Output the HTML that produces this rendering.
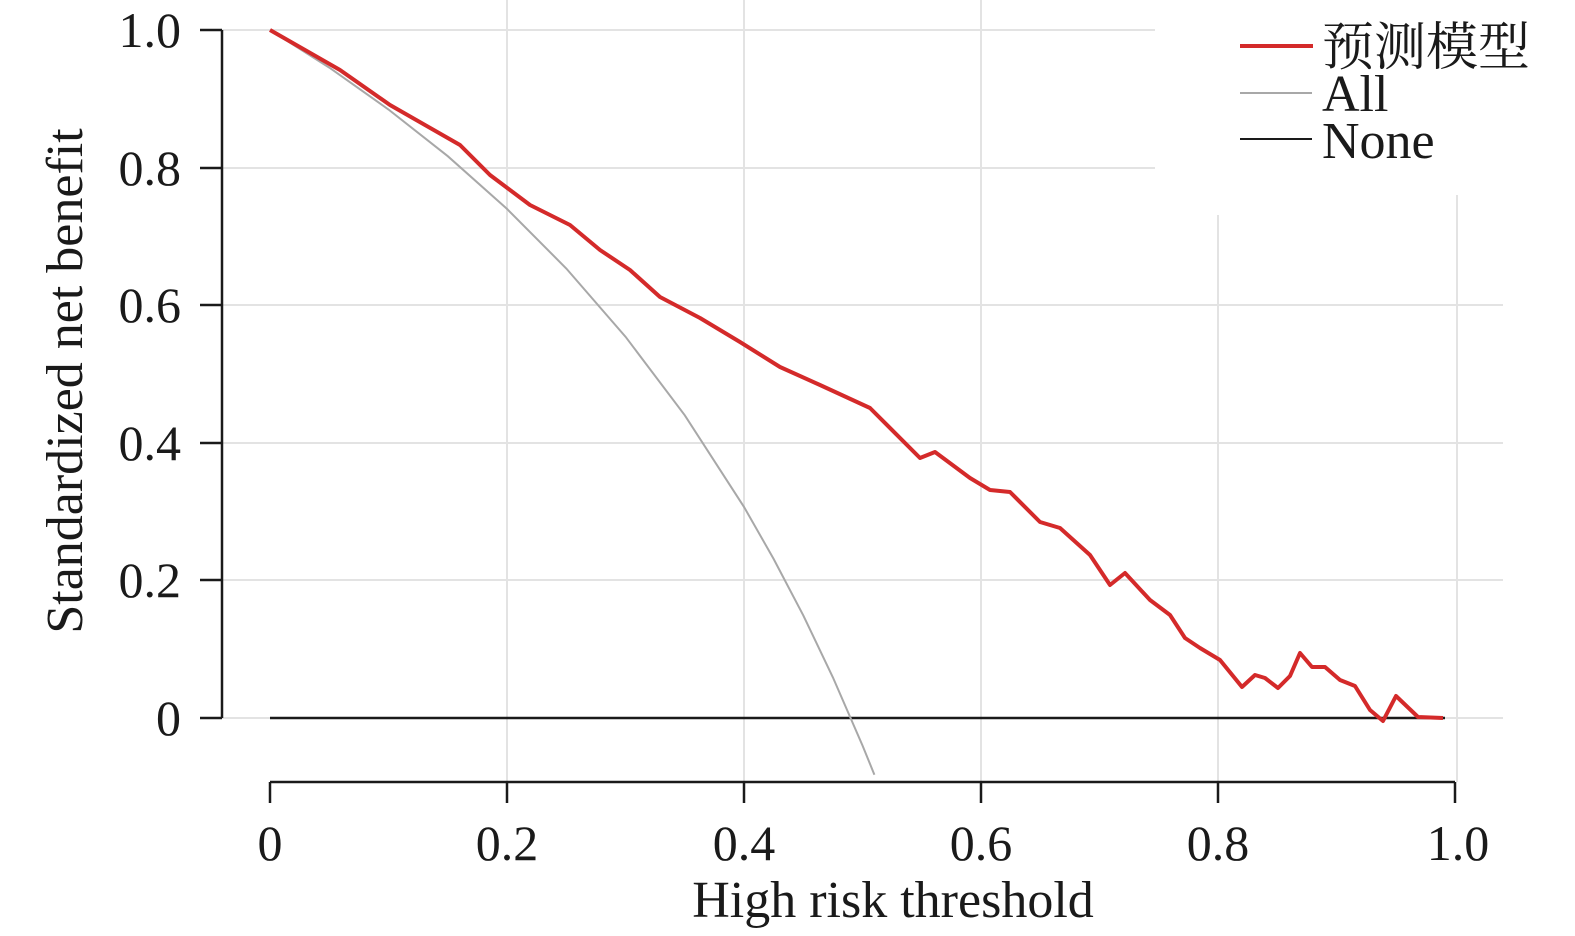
<!DOCTYPE html>
<html><head><meta charset="utf-8"><style>body{margin:0;background:#fff}svg{display:block}</style></head><body>
<svg width="1575" height="936" xmlns="http://www.w3.org/2000/svg" font-family="'Liberation Serif','Noto Serif CJK SC',serif" fill="#1a1a1a">
<g stroke="#e3e3e3" stroke-width="2">
<line x1="222" y1="30" x2="1155" y2="30"/><line x1="222" y1="168" x2="1155" y2="168"/>
<line x1="222" y1="305" x2="1503" y2="305"/><line x1="222" y1="443" x2="1503" y2="443"/>
<line x1="222" y1="580" x2="1503" y2="580"/><line x1="222" y1="718" x2="1503" y2="718"/>
<line x1="507" y1="0" x2="507" y2="782"/><line x1="744" y1="0" x2="744" y2="782"/>
<line x1="981" y1="0" x2="981" y2="782"/><line x1="1218" y1="215" x2="1218" y2="782"/>
<line x1="1457" y1="195" x2="1457" y2="782"/>
</g>
<g stroke="#1a1a1a" stroke-width="2.5">
<line x1="222" y1="30" x2="222" y2="718"/>
<line x1="200" y1="30" x2="222" y2="30"/><line x1="200" y1="168" x2="222" y2="168"/><line x1="200" y1="305" x2="222" y2="305"/><line x1="200" y1="443" x2="222" y2="443"/><line x1="200" y1="580" x2="222" y2="580"/><line x1="200" y1="718" x2="222" y2="718"/>
<line x1="270" y1="782" x2="1455" y2="782"/>
<line x1="270" y1="782" x2="270" y2="803"/><line x1="507" y1="782" x2="507" y2="803"/><line x1="744" y1="782" x2="744" y2="803"/><line x1="981" y1="782" x2="981" y2="803"/><line x1="1218" y1="782" x2="1218" y2="803"/><line x1="1455" y1="782" x2="1455" y2="803"/>
<line x1="270" y1="718" x2="1445" y2="718"/>
</g>
<polyline fill="none" stroke="#a8a8a8" stroke-width="2" points="270,30 329.3,67.6 388.5,109.5 447.8,156.2 507,208.9 566.3,268.5 625.5,336.7 684.8,415.3 744,506.9 773.6,558.9 803.3,615.4 832.9,677.4 862.5,745.5 874.4,774.7"/>
<polyline fill="none" stroke="#d42a2a" stroke-width="4" stroke-linejoin="round" points="270,30 340,70 390,105 460,145 490,175 530,205 570,225 600,250 630,270 660,297 700,318 740,342 780,367 820,385 870,408 920,458 935,452 970,478 990,490 1010,492 1040,522 1060,528 1090,555 1110,585 1125,573 1150,600 1170,615 1185,638 1200,648 1220,660 1242,687 1255,675 1265,678 1278,688 1290,676 1300,653 1312,667 1325,667 1340,680 1355,686 1370,710 1383,721 1396,696 1418,717 1443,718"/>
<g font-size="50" text-anchor="end">
<text x="181" y="47">1.0</text><text x="181" y="185">0.8</text><text x="181" y="322">0.6</text><text x="181" y="460">0.4</text><text x="181" y="597">0.2</text><text x="181" y="735">0</text>
</g>
<g font-size="50" text-anchor="middle">
<text x="270" y="860">0</text><text x="507" y="860">0.2</text><text x="744" y="860">0.4</text><text x="981" y="860">0.6</text><text x="1218" y="860">0.8</text><text x="1458" y="860">1.0</text>
</g>
<text x="893" y="917" font-size="52" text-anchor="middle">High risk threshold</text>
<text transform="translate(82,381) rotate(-90)" font-size="52" text-anchor="middle">Standardized net benefit</text>
<line x1="1240" y1="46" x2="1313" y2="46" stroke="#d42a2a" stroke-width="4"/>
<line x1="1240" y1="93" x2="1312" y2="93" stroke="#a8a8a8" stroke-width="2"/>
<line x1="1240" y1="139" x2="1312" y2="139" stroke="#1a1a1a" stroke-width="2"/>
<g font-size="52">
<text x="1322" y="65">预测模型</text><text x="1322" y="111">All</text><text x="1322" y="158">None</text>
</g>
</svg>
</body></html>
